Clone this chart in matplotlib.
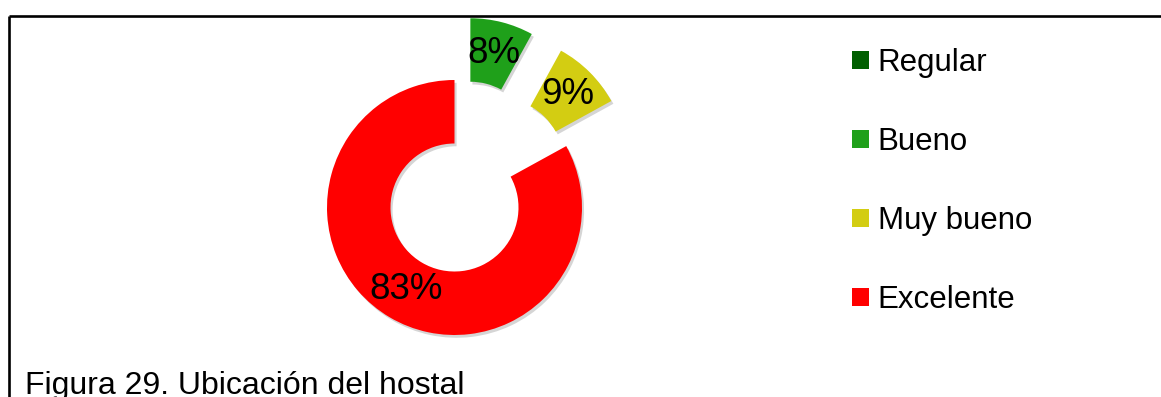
import matplotlib.pyplot as plt
from matplotlib import patheffects

plt.rcParams['font.family'] = ['Liberation Sans', 'DejaVu Sans']

# survey results
categories = ['Regular', 'Bueno', 'Muy bueno', 'Excelente']
values = [0, 8, 9, 83]
colors = ['#005f00', '#1fa01a', '#d3cd12', '#ff0000']
explode_frac = [0.0, 0.5, 0.5, 0.0]
title = 'Figura 29. Ubicación del hostal'

W, H = 1161, 397
fig = plt.figure(figsize=(W / 100, H / 100), dpi=100)
ax = fig.add_axes([0, 0, 1, 1])

# work in pixel units so the ring sits where it should on the page
cx, cy = 454.5, H - 207.5
r_out = 127.5
ring = 63.5

shadow = [patheffects.SimplePatchShadow(offset=(1.5, -2), shadow_rgbFace='#888888', alpha=0.35),
          patheffects.Normal()]

wedges, _, autotexts = ax.pie(
    values,
    colors=colors,
    startangle=90,
    counterclock=False,
    center=(cx, cy),
    radius=r_out,
    explode=[e * r_out for e in explode_frac],
    autopct=lambda p: '' if p < 0.5 else '{:.0f}%'.format(p),
    pctdistance=(r_out - ring / 2) / r_out,
    wedgeprops=dict(width=ring, linewidth=0, path_effects=shadow),
    textprops=dict(fontsize=26.5, color='black'),
    frame=True,
)

ax.set_xlim(0, W)
ax.set_ylim(0, H)
ax.set_aspect('equal')
ax.axis('off')

leg = ax.legend(wedges, categories, loc='upper left',
                bbox_to_anchor=(852 / W, 1 - 48 / H), bbox_transform=fig.transFigure,
                frameon=False, fontsize=22.5, handlelength=0.54, handleheight=0.54,
                handletextpad=0.28, labelspacing=1.57, borderpad=0, borderaxespad=0)
for h in leg.legend_handles:
    h.set_path_effects([])

# page frame (top and left rules)
ax.plot([8.5, W], [H - 15.5, H - 15.5], color='black', lw=1.9, solid_capstyle='butt')
ax.plot([8.5, 8.5], [H - 15.5, 0], color='black', lw=1.9, solid_capstyle='butt')

fig.text(25 / W, 3 / H, title, fontsize=23, va='baseline', ha='left')

fig.savefig('out.png', dpi=100)
